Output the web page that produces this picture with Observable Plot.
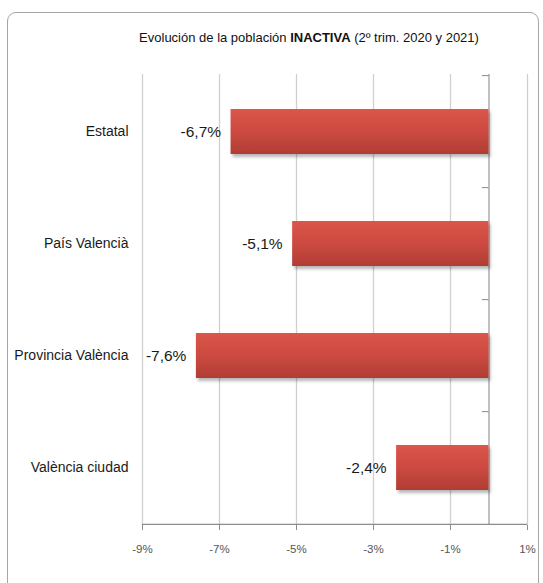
<!DOCTYPE html>
<html>
<head>
<meta charset="utf-8">
<script src="https://cdn.jsdelivr.net/npm/d3@7"></script>
<script src="https://cdn.jsdelivr.net/npm/@observablehq/plot@0.6"></script>
<style>
  html, body { margin: 0; padding: 0; background: #fff; }
  #wrap { position: relative; width: 543px; height: 583px; overflow: hidden;
    font-family: "Liberation Sans", Arial, sans-serif; }
  #frame { position: absolute; left: 7px; top: 12px; width: 532px; height: 600px;
    border: 1px solid #a6a6a6; border-radius: 9px; box-sizing: border-box; }
  #title { position: absolute; left: 0; width: 618px; top: 30px; text-align: center;
    font-size: 13px; color: #111; white-space: nowrap; }
  #chart { position: absolute; left: 0; top: 0; }
  #chart svg { overflow: visible; }
</style>
</head>
<body>
<div id="wrap">
  <div id="frame"></div>
  <div id="chart"></div>
  <div id="title">Evolución de la población <b>INACTIVA</b> (2º trim. 2020 y 2021)</div>
</div>
<script>
const categories = ["Estatal", "País Valencià", "Provincia València", "València ciudad"];
const values = [-6.7, -5.1, -7.6, -2.4];
const xTicks = [-9, -7, -5, -3, -1, 1];

const data = categories.map((c, i) => ({cat: c, v: values[i]}));
const fmt = v => String(v.toFixed(1)).replace(".", ",") + "%";

const W = 543, H = 583, mT = 74, mB = 58, mL = 142, mR = 16;
const step = (H - mT - mB) / categories.length;

const chart = Plot.plot({
  width: W, height: H,
  marginTop: mT, marginBottom: mB, marginLeft: mL, marginRight: mR,
  style: {fontFamily: '"Liberation Sans", Arial, sans-serif', background: "transparent", overflow: "visible"},
  x: {domain: [-9, 1], ticks: xTicks, tickFormat: d => d + "%", label: null},
  y: {domain: categories, paddingInner: 0.6, paddingOuter: 0.3, label: null},
  marks: [
    Plot.gridX(xTicks, {stroke: "#d0d0d0", strokeOpacity: 1, strokeWidth: 1.3}),
    Plot.ruleX([0], {stroke: "#a0a0a0", strokeWidth: 1.3}),
    Plot.ruleY(categories, {y: d => d, x1: -0.17, x2: 0, dy: -step / 2, stroke: "#888"}),
    Plot.ruleY(categories.slice(-1), {y: d => d, x1: -9, x2: 1, dy: step / 2, stroke: "#8c8c8c", strokeWidth: 1.2}),
    Plot.axisX({ticks: xTicks, tickFormat: d => d + "%", tickSize: 5, tickPadding: 14, stroke: "#8c8c8c", fill: "#555", fontSize: 11.5, label: null}),
    Plot.axisY({tickSize: 0, tickPadding: 14, fontSize: 14, fill: "#1a1a1a", label: null}),
    Plot.barX(data, {x1: 0, x2: "v", y: "cat", fill: "#c9463d"}),
    Plot.text(data, {x: "v", y: "cat", text: d => fmt(d.v), textAnchor: "end", dx: -10, fontSize: 15.5, fill: "#1a1a1a"})
  ]
});

// gradient + shadow for bars
const ns = "http://www.w3.org/2000/svg";
const defs = document.createElementNS(ns, "defs");
defs.innerHTML = `
  <linearGradient id="barGrad" x1="0" y1="0" x2="0" y2="1">
    <stop offset="0" stop-color="#dc554a"/>
    <stop offset="0.5" stop-color="#cc4a40"/>
    <stop offset="1" stop-color="#b03d35"/>
  </linearGradient>
  <filter id="shadow" x="-5%" y="-20%" width="115%" height="150%">
    <feDropShadow dx="2" dy="3" stdDeviation="1.6" flood-color="#000" flood-opacity="0.28"/>
  </filter>`;
chart.insertBefore(defs, chart.firstChild);
const barG = chart.querySelector('g[aria-label="bar"]');
if (barG) {
  barG.setAttribute("filter", "url(#shadow)");
  barG.querySelectorAll("rect").forEach(r => r.setAttribute("fill", "url(#barGrad)"));
  barG.removeAttribute("fill");
}
document.getElementById("chart").appendChild(chart);
</script>
</body>
</html>
